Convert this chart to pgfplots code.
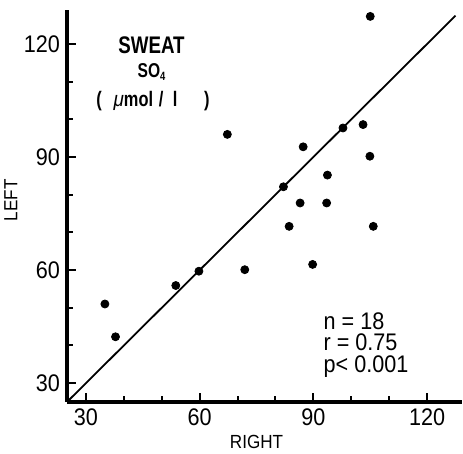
\documentclass[border=0pt]{standalone}
\usepackage{fontspec}
\setmainfont{Liberation Sans}[FakeStretch=0.9]
\newfontfamily\titlefont{Liberation Sans Bold}[FakeStretch=0.78]
\newfontfamily\mufont{Liberation Sans Italic}[FakeStretch=0.9]
\usepackage{pgfplots}
\pgfplotsset{compat=1.18}

\begin{document}
\begin{tikzpicture}
\path[use as bounding box] (-33.5pt,-26pt) rectangle (198pt,201pt);
\begin{axis}[
    at={(0,0)}, anchor=south west,
    width=197.5pt, height=196pt, scale only axis,
    xmin=25, xmax=129.2, ymin=25, ymax=129,
    axis x line=bottom, axis y line=left,
    axis line style={-, line width=1.6pt},
    tick align=inside,
    xtick={30,60,90,120}, ytick={30,60,90,120},
    minor tick num=2,
    major tick length=4.5pt, minor tick length=3pt,
    every tick/.style={black, line width=1pt},
    ticklabel style={font=\fontsize{12}{12}\selectfont},
    /pgf/number format/assume math mode=true,
    xlabel={RIGHT}, ylabel={LEFT},
    label style={font=\fontsize{9.5}{10}\selectfont},
    xlabel style={at={(axis description cs:0.48,-0.102)}, anchor=center},
    ylabel style={at={(axis description cs:-0.142,0.515)}, anchor=center},
    clip=false,
]
% line of identity
\addplot[black, line width=0.9pt] coordinates {(25,25) (127.5,127.5)};
% paired values, right vs left
\addplot[only marks, mark=*, mark size=2pt, black] coordinates {
    (35.0,51.0)
    (37.8,42.3)
    (53.7,55.9)
    (59.8,59.7)
    (71.9,60.1)
    (89.8,61.5)
    (83.6,71.6)
    (105.8,71.6)
    (86.5,77.8)
    (93.5,77.8)
    (93.7,85.2)
    (82.1,82.1)
    (104.9,90.2)
    (87.3,92.7)
    (97.8,97.7)
    (103.1,98.6)
    (105.0,127.3)
    (67.3,96.0)
};
\node[anchor=base, inner sep=0pt, font=\titlefont\fontsize{12}{12}\selectfont] at (axis cs:47.3,117.5) {SWEAT};
\node[anchor=base, inner sep=0pt, font=\titlefont\fontsize{10}{10}\selectfont] at (axis cs:47.3,111.2) {SO\raisebox{-0.3ex}{\fontsize{6}{6}\selectfont 4}};
\node[anchor=base, inner sep=0pt, font=\titlefont\fontsize{10.5}{11}\selectfont] at (axis cs:47.7,103.5) {(\;\;{\mufont μ}mol\;/\;\,l\quad\;)};
\node[anchor=north west, inner sep=0pt, align=left, font=\fontsize{12}{10.8}\selectfont] at (axis cs:92.6,48.9) {n = 18\\r = 0.75\\p< 0.001};
\end{axis}
\end{tikzpicture}
\end{document}
